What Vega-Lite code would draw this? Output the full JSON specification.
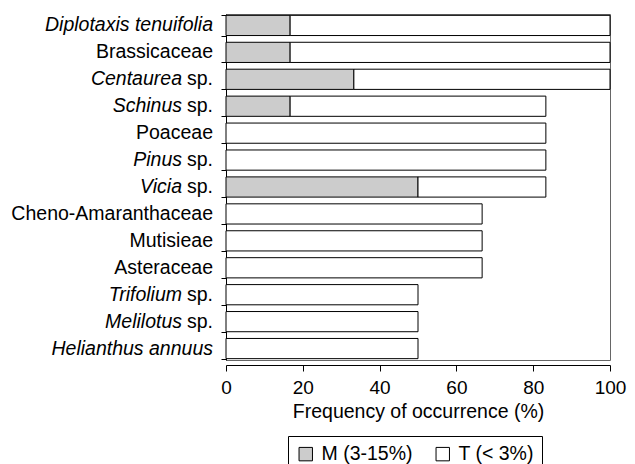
{
  "$schema": "https://vega.github.io/schema/vega-lite/v6.json",
  "width": 384,
  "height": 346,
  "autosize": "none",
  "padding": {"left": 226, "top": 14, "right": 25, "bottom": 104},
  "config": {"font": "Liberation Sans", "view": {"stroke": "#666666", "strokeWidth": 1}},
  "datasets": {
    "bars": [
      {"name": "Diplotaxis tenuifolia", "type": "M (3-15%)", "value": 16.7},
      {"name": "Diplotaxis tenuifolia", "type": "T (< 3%)", "value": 83.3},
      {"name": "Brassicaceae", "type": "M (3-15%)", "value": 16.7},
      {"name": "Brassicaceae", "type": "T (< 3%)", "value": 83.3},
      {"name": "Centaurea sp.", "type": "M (3-15%)", "value": 33.3},
      {"name": "Centaurea sp.", "type": "T (< 3%)", "value": 66.7},
      {"name": "Schinus sp.", "type": "M (3-15%)", "value": 16.7},
      {"name": "Schinus sp.", "type": "T (< 3%)", "value": 66.6},
      {"name": "Poaceae", "type": "T (< 3%)", "value": 83.3},
      {"name": "Pinus sp.", "type": "T (< 3%)", "value": 83.3},
      {"name": "Vicia sp.", "type": "M (3-15%)", "value": 50},
      {"name": "Vicia sp.", "type": "T (< 3%)", "value": 33.3},
      {"name": "Cheno-Amaranthaceae", "type": "T (< 3%)", "value": 66.7},
      {"name": "Mutisieae", "type": "T (< 3%)", "value": 66.7},
      {"name": "Asteraceae", "type": "T (< 3%)", "value": 66.7},
      {"name": "Trifolium sp.", "type": "T (< 3%)", "value": 50},
      {"name": "Melilotus sp.", "type": "T (< 3%)", "value": 50},
      {"name": "Helianthus annuus", "type": "T (< 3%)", "value": 50}
    ],
    "labels": [
      {"name": "Diplotaxis tenuifolia", "it": "Diplotaxis tenuifolia", "rm": "", "kind": "it"},
      {"name": "Brassicaceae", "it": "", "rm": "Brassicaceae", "kind": "rm"},
      {"name": "Centaurea sp.", "it": "Centaurea", "rm": "sp.", "kind": "mix"},
      {"name": "Schinus sp.", "it": "Schinus", "rm": "sp.", "kind": "mix"},
      {"name": "Poaceae", "it": "", "rm": "Poaceae", "kind": "rm"},
      {"name": "Pinus sp.", "it": "Pinus", "rm": "sp.", "kind": "mix"},
      {"name": "Vicia sp.", "it": "Vicia", "rm": "sp.", "kind": "mix"},
      {"name": "Cheno-Amaranthaceae", "it": "", "rm": "Cheno-Amaranthaceae", "kind": "rm"},
      {"name": "Mutisieae", "it": "", "rm": "Mutisieae", "kind": "rm"},
      {"name": "Asteraceae", "it": "", "rm": "Asteraceae", "kind": "rm"},
      {"name": "Trifolium sp.", "it": "Trifolium", "rm": "sp.", "kind": "mix"},
      {"name": "Melilotus sp.", "it": "Melilotus", "rm": "sp.", "kind": "mix"},
      {"name": "Helianthus annuus", "it": "Helianthus annuus", "rm": "", "kind": "it"}
    ]
  },
  "encoding": {
    "y": {
      "field": "name",
      "type": "nominal",
      "scale": {
        "domain": ["Diplotaxis tenuifolia", "Brassicaceae", "Centaurea sp.", "Schinus sp.", "Poaceae", "Pinus sp.", "Vicia sp.", "Cheno-Amaranthaceae", "Mutisieae", "Asteraceae", "Trifolium sp.", "Melilotus sp.", "Helianthus annuus"],
        "paddingInner": 0.25,
        "paddingOuter": 0.05
      },
      "axis": {"title": null, "labels": false, "tickBand": "extent", "domainColor": "black", "tickColor": "black", "tickSize": 5, "domainWidth": 1}
    }
  },
  "layer": [
    {
      "data": {"name": "bars"},
      "mark": {"type": "bar", "stroke": "black", "strokeWidth": 1},
      "encoding": {
        "x": {
          "field": "value",
          "type": "quantitative",
          "stack": "zero",
          "scale": {"domain": [0, 100]},
          "axis": {"title": "Frequency of occurrence (%)", "values": [0, 20, 40, 60, 80, 100], "grid": false, "offset": 5, "domainColor": "black", "tickColor": "black", "tickSize": 6, "labelFontSize": 19, "titleFontSize": 19.5, "labelColor": "black", "titleColor": "black", "titleFontWeight": "normal", "labelPadding": 7, "titlePadding": 5, "labelFlush": false}
        },
        "color": {
          "field": "type",
          "type": "nominal",
          "scale": {"domain": ["M (3-15%)", "T (< 3%)"], "range": ["#cccccc", "#ffffff"]},
          "legend": {"title": null, "orient": "none", "legendX": 62, "legendY": 422, "direction": "horizontal", "strokeColor": "black", "fillColor": "white", "padding": 8, "symbolType": "square", "symbolSize": 180, "symbolStrokeColor": "black", "symbolStrokeWidth": 1, "labelFontSize": 19.5, "labelColor": "black", "columnPadding": 20, "labelOffset": 6, "symbolOpacity": 1}
        },
        "order": {"field": "type", "type": "nominal"}
      }
    },
    {
      "data": {"name": "labels"},
      "transform": [{"filter": "datum.rm != ''"}],
      "mark": {"type": "text", "align": "right", "baseline": "middle", "dx": -13, "fontSize": 19.5, "color": "black"},
      "encoding": {"x": {"datum": 0, "type": "quantitative"}, "text": {"field": "rm"}}
    },
    {
      "data": {"name": "labels"},
      "transform": [{"filter": "datum.kind == 'it'"}],
      "mark": {"type": "text", "align": "right", "baseline": "middle", "dx": -13, "fontSize": 19.5, "fontStyle": "italic", "color": "black"},
      "encoding": {"x": {"datum": 0, "type": "quantitative"}, "text": {"field": "it"}}
    },
    {
      "data": {"name": "labels"},
      "transform": [{"filter": "datum.kind == 'mix'"}],
      "mark": {"type": "text", "align": "right", "baseline": "middle", "dx": -44, "fontSize": 19.5, "fontStyle": "italic", "color": "black"},
      "encoding": {"x": {"datum": 0, "type": "quantitative"}, "text": {"field": "it"}}
    }
  ]
}
